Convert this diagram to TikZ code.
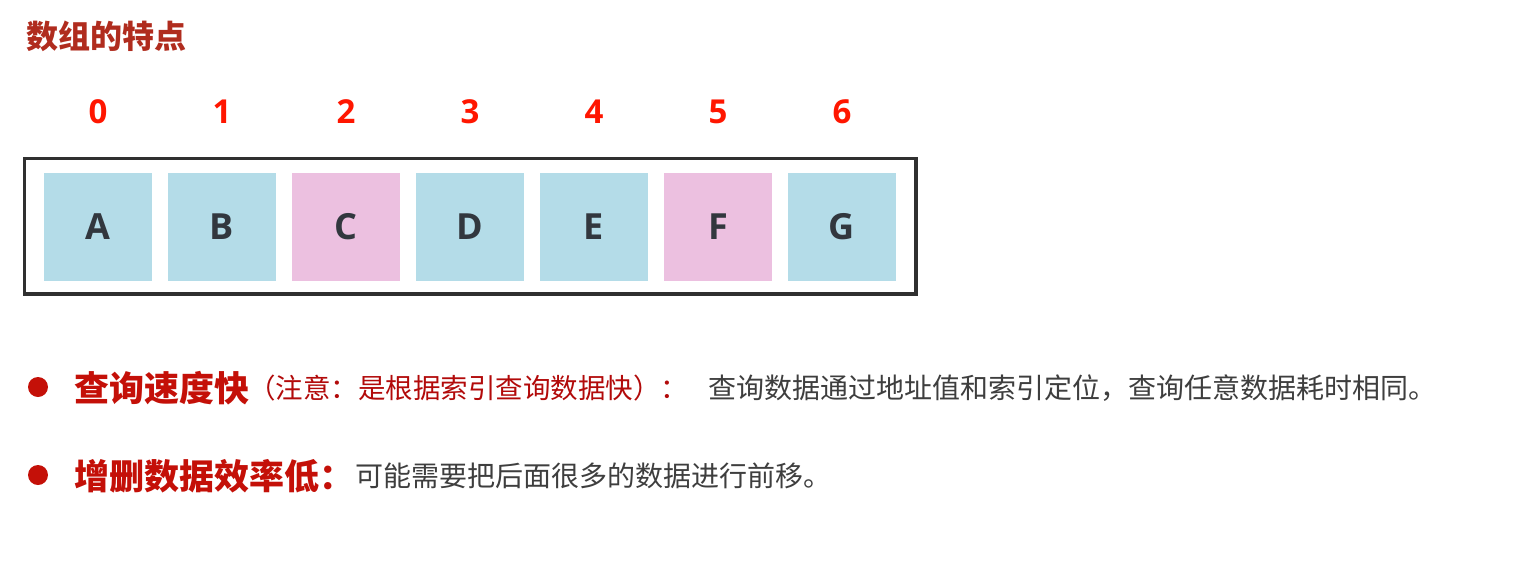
\documentclass[tikz,border=0pt]{standalone}
\usepackage{fontspec}
\setmainfont{Open Sans}
\newfontfamily\cjk{Noto Sans CJK SC}
\definecolor{titlered}{RGB}{176,44,30}
\definecolor{numred}{RGB}{255,22,0}
\definecolor{boldred}{RGB}{196,16,8}
\definecolor{notered}{RGB}{178,10,10}
\definecolor{graytext}{RGB}{62,62,62}
\definecolor{cellblue}{RGB}{180,220,232}
\definecolor{cellpink}{RGB}{236,192,224}
\definecolor{letter}{RGB}{50,55,62}
\definecolor{framegray}{RGB}{48,48,48}
\tikzset{
  cell/.style={minimum size=108pt, inner sep=0pt, font=\fontsize{36pt}{40pt}\selectfont\bfseries, text=letter},
  idx/.style={inner sep=0pt, font=\fontsize{33pt}{36pt}\selectfont\bfseries, text=numred},
  bulletdot/.style={circle, fill=boldred, minimum size=20pt, inner sep=0pt},
  boldtxt/.style={anchor=west, inner sep=0pt, text=boldred, font=\cjk\fontsize{35pt}{40pt}\selectfont\bfseries},
  notetxt/.style={anchor=west, inner sep=0pt, text=notered, font=\cjk\fontsize{27.5pt}{31pt}\selectfont},
  graytxt/.style={anchor=west, inner sep=0pt, text=graytext, font=\cjk\fontsize{28pt}{31pt}\selectfont}
}
\begin{document}
\begin{tikzpicture}[x=1pt,y=-1pt]
\useasboundingbox[fill=white] (0,0) rectangle (1518,576);
\node[anchor=west, inner sep=0pt, text=titlered, font=\cjk\fontsize{32pt}{35pt}\selectfont\bfseries] (title) at (26,36) {数组的特点};
\node[draw=framegray, line width=3.2pt, minimum width=891.5pt, minimum height=135.5pt, inner sep=0pt] (frame) at (470.25,226.25) {};
\foreach \i/\L/\c in {0/A/cellblue,1/B/cellblue,2/C/cellpink,3/D/cellblue,4/E/cellblue,5/F/cellpink,6/G/cellblue}{
  \node[cell, fill=\c] (c\i) at ({98+124*\i},227) {\L};
  \node[idx] (n\i) at ({98+124*\i},112) {\i};
}
\node[bulletdot] (d1) at (38,387) {};
\node[boldtxt] (q1) at (74,388) {查询速度快};
\node[notetxt] (q2) at (248,388) {（注意：是根据索引查询数据快）：};
\node[graytxt] (q3) at (708,388) {查询数据通过地址值和索引定位，查询任意数据耗时相同。};
\node[bulletdot] (d2) at (38,475) {};
\node[boldtxt] (z1) at (74,476) {增删数据效率低：};
\node[graytxt] (z2) at (355,476) {可能需要把后面很多的数据进行前移。};
\end{tikzpicture}
\end{document}
